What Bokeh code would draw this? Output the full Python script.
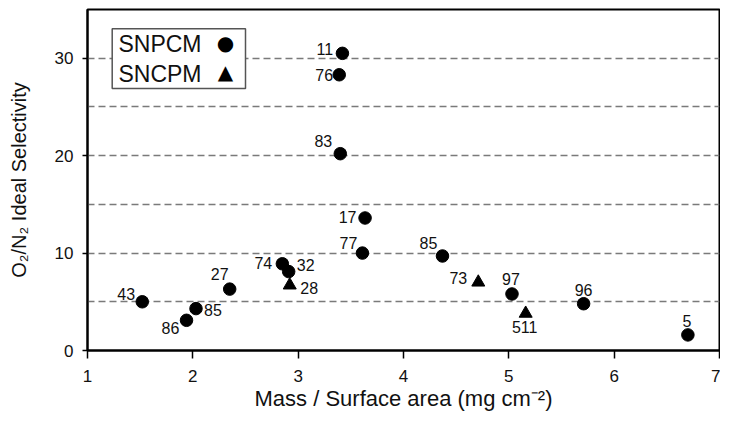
from bokeh.plotting import figure
from bokeh.models import ColumnDataSource, FixedTicker, Label, BoxAnnotation
from bokeh.core.properties import value
from bokeh.embed import file_html
from bokeh.resources import INLINE

# ---- data ----
snpcm_x = [3.42, 3.39, 3.40, 3.635, 3.61, 4.37, 5.03, 5.71, 6.70, 1.52, 1.94, 2.03, 2.35, 2.85, 2.91]
snpcm_y = [30.5, 28.3, 20.2, 13.6, 10.0, 9.7, 5.8, 4.8, 1.6, 5.0, 3.1, 4.3, 6.3, 8.9, 8.1]
snpcm_labels = ["11", "76", "83", "17", "77", "85", "97", "96", "5", "43", "86", "85", "27", "74", "32"]

sncpm_x = [2.92, 4.71, 5.16]
sncpm_y = [6.7, 7.0, 3.8]
sncpm_labels = ["28", "73", "511"]

x_ticks = [1, 2, 3, 4, 5, 6, 7]
y_ticks = [0, 10, 20, 30]
grid_levels = [5, 10, 15, 20, 25, 30]

# ---- label placement styles (screen px offsets) ----
snpcm_dx = [-17.5, -15, -17, -17.5, -14, -14, -1, 0, -1, -16, -16, 17, -10, -19, 17]
snpcm_dy = [-4, 0, -12.5, -1, -10, -13, -15, -14, -14, -8, 8, 1, -15, -1, -7]
sncpm_dx = [19.5, -20, -1]
sncpm_dy = [3, -4, 14]

FONT = "Liberation Sans"

p = figure(width=720, height=413, x_range=(1, 7), y_range=(0, 35),
           output_backend="svg", toolbar_location=None,
           min_border_left=87, min_border_right=1, min_border_top=9, min_border_bottom=62)
p.background_fill_color = "white"
p.border_fill_color = "white"
p.outline_line_color = "black"
p.outline_line_width = 2

p.xgrid.visible = False
p.ygrid.ticker = FixedTicker(ticks=grid_levels)
p.ygrid.grid_line_color = "#7a7a7a"
p.ygrid.grid_line_dash = "7 4"
p.ygrid.grid_line_width = 1.5

p.xaxis.ticker = FixedTicker(ticks=x_ticks)
p.yaxis.ticker = FixedTicker(ticks=y_ticks)
for ax in (p.xaxis[0], p.yaxis[0]):
    ax.axis_line_color = "black"
    ax.axis_line_width = 2
    ax.major_tick_in = 0
    ax.major_tick_line_color = "black"
    ax.major_tick_line_width = 1.5
    ax.minor_tick_line_color = None
    ax.major_label_text_font = FONT
    ax.major_label_text_font_size = "17px"
    ax.major_label_text_color = "#111111"
    ax.axis_label_text_font = FONT
    ax.axis_label_text_font_style = "normal"
    ax.axis_label_text_color = "#111111"
p.xaxis.major_tick_out = 8
p.xaxis.major_label_standoff = 11
p.yaxis.major_tick_out = 5
p.yaxis.major_label_standoff = 9

p.xaxis.axis_label = "Mass / Surface area (mg cm\u207b\u00b2)"
p.xaxis.axis_label_text_font_size = "22px"
p.xaxis.axis_label_standoff = 1

p.yaxis.axis_label = "O\u2082/N\u2082 Ideal Selectivity"
p.yaxis.axis_label_text_font_size = "20px"
p.yaxis.axis_label_standoff = 22

src1 = ColumnDataSource(dict(x=snpcm_x, y=snpcm_y, t=snpcm_labels, dx=snpcm_dx, dy=snpcm_dy))
src2 = ColumnDataSource(dict(x=sncpm_x, y=sncpm_y, t=sncpm_labels, dx=sncpm_dx, dy=sncpm_dy))

p.scatter("x", "y", source=src1, marker="circle", size=12.5, fill_color="black", line_color="black")
p.scatter("x", "y", source=src2, marker="triangle", size=13, fill_color="black", line_color="black")

for s in (src1, src2):
    p.text("x", "y", text="t", source=s, x_offset="dx", y_offset="dy",
           text_align="center", text_baseline="middle",
           text_font=value(FONT), text_font_size="16px", text_color="#111111")

# legend (symbols drawn to the right of the names, as in the reference)
p.add_layout(BoxAnnotation(left=1.2345, right=2.50, bottom=26.88, top=33.02,
                           fill_color="white", fill_alpha=1.0,
                           line_color="#555555", line_width=1.5, line_alpha=1.0))
p.add_layout(Label(x=1.294, y=31.49, text="SNPCM", text_baseline="middle",
                   text_font=FONT, text_font_size="23px", text_color="#111111"))
p.add_layout(Label(x=1.294, y=28.42, text="SNCPM", text_baseline="middle",
                   text_font=FONT, text_font_size="23px", text_color="#111111"))
p.add_layout(Label(x=2.31, y=31.55, text="\u25cf", text_align="center", text_baseline="middle",
                   text_font="DejaVu Sans", text_font_size="20px", text_color="black"))
p.add_layout(Label(x=2.31, y=28.55, text="\u25b2", text_align="center", text_baseline="middle",
                   text_font="DejaVu Sans", text_font_size="20px", text_color="black"))

open("out.html", "w").write(file_html(p, INLINE))
